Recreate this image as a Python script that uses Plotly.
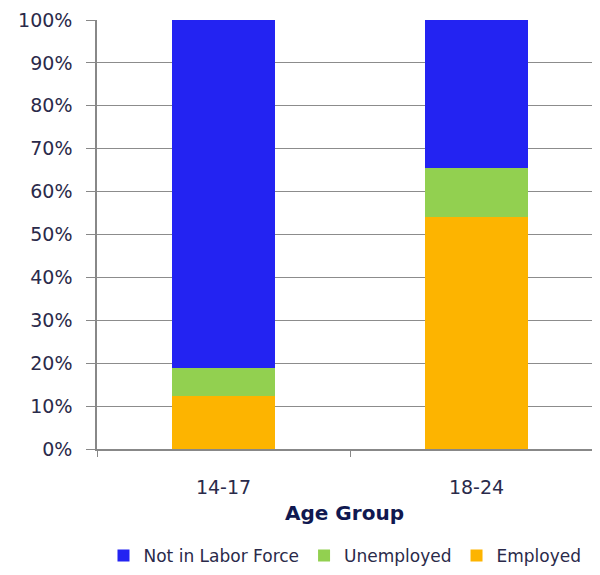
import plotly.graph_objects as go

categories = ["14-17", "18-24"]
employed = [12.4, 54.0]
unemployed = [6.4, 11.4]
not_in_labor = [81.2, 34.6]
series_names = ["Employed", "Unemployed", "Not in Labor Force"]
colors = ["#FDB400", "#92D050", "#2323F2"]
y_ticks = [0, 10, 20, 30, 40, 50, 60, 70, 80, 90, 100]
y_ticktext = [f"{v}%" for v in y_ticks]

fig = go.Figure()
for name, vals, col in zip(series_names, [employed, unemployed, not_in_labor], colors):
    fig.add_trace(go.Bar(x=categories, y=vals, name=name, marker=dict(color=col, line=dict(width=0))))

font_family = "'DejaVu Sans', sans-serif"
txt = "#2A2A4A"
fig.update_layout(
    width=584, height=559,
    barmode="stack", bargap=0.59,
    plot_bgcolor="white", paper_bgcolor="white",
    margin=dict(l=89, r=0, t=12, b=118),
    font=dict(family=font_family, size=18, color=txt),
    legend=dict(orientation="h", x=0.501, xanchor="center", yref="container", y=0.0197, yanchor="middle",
                traceorder="reversed", font=dict(size=17, color=txt), bgcolor="rgba(0,0,0,0)",
                itemwidth=30, tracegroupgap=0),
    xaxis=dict(type="category", range=[-0.5, 1.4565], tickson="boundaries", ticks="outside", ticklen=6,
               tickcolor="#888888", showline=True, linecolor="#888888", linewidth=1.5,
               showgrid=False, tickfont=dict(size=19, color=txt), ticklabelstandoff=20,
               title=dict(text="<b>Age Group</b>", font=dict(size=20, color="#101850"), standoff=9)),
    yaxis=dict(range=[0, 100], tickvals=y_ticks, ticktext=y_ticktext, ticks="outside",
               ticklen=9, tickcolor="#888888", showline=True, linecolor="#888888", linewidth=1.5,
               showgrid=True, gridcolor="#8C8C8C", gridwidth=1.2, zeroline=False,
               tickfont=dict(size=19, color=txt), ticklabelstandoff=10, ticklabeloverflow="allow"),
)

fig.write_html("out.html")
